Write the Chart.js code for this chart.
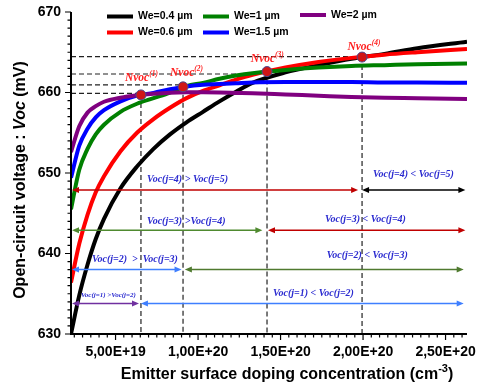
<!DOCTYPE html>
<html>
<head>
<meta charset="utf-8">
<script src="https://cdn.jsdelivr.net/npm/chart.js@4.4.0/dist/chart.umd.min.js"></script>
<style>
  html, body { margin: 0; padding: 0; background: #fff; }
  #wrap { width: 480px; height: 390px; }
</style>
</head>
<body>
<div id="wrap"><canvas id="vocChart" width="480" height="390"></canvas></div>
<script>
// emitter surface doping (cm-3)
const doping = [2.3e19, 2.8e19, 3.3e19, 3.8e19, 4.3e19, 5.3e19, 6.3e19, 7.3e19, 8.3e19, 9.3e19,
                1.03e20, 1.13e20, 1.23e20, 1.33e20, 1.53e20, 1.73e20, 1.93e20, 2.13e20, 2.33e20, 2.63e20];

// Voc (mV) for each emitter thickness
const vocWe04 = [630.0, 634.8, 638.6, 641.8, 644.3, 648.1, 650.8, 653.0, 654.8, 656.3,
                 657.6, 658.9, 660.1, 661.2, 662.5, 663.4, 664.2, 664.8, 665.5, 666.3];
const vocWe06 = [636.4, 641.2, 644.8, 647.6, 649.6, 652.7, 655.0, 656.7, 658.1, 659.3,
                 660.2, 660.9, 661.6, 662.2, 663.1, 663.8, 664.3, 664.7, 665.0, 665.4];
const vocWe1 = [645.5, 650.4, 653.0, 654.8, 656.0, 657.6, 658.6, 659.3, 660.0, 660.8,
                661.2, 661.7, 662.1, 662.4, 662.8, 663.1, 663.3, 663.4, 663.5, 663.6];
const vocWe15 = [649.4, 653.4, 655.5, 656.9, 657.8, 658.9, 659.62, 659.95, 660.4, 660.75,
                 660.95, 661.05, 661.15, 661.25, 661.3, 661.3, 661.3, 661.25, 661.25, 661.2];
const vocWe2 = [652.6, 655.8, 657.5, 658.3, 658.85, 659.35, 659.65, 659.85, 659.98, 660.02,
                660.02, 660.0, 659.95, 659.9, 659.75, 659.6, 659.45, 659.35, 659.3, 659.2];

const weLabels = ['We=0.4 µm', 'We=0.6 µm', 'We=1 µm', 'We=1.5 µm', 'We=2 µm'];
const weColors = ['#000000', '#ff0000', '#008000', '#0000ff', '#800080'];

// crossing points Nvoc(1..4)
const nvocX = [6.54e19, 9.09e19, 1.418e20, 1.994e20];
const nvocY = [659.7, 660.7, 662.6, 664.4];
const nvocGuideY = [659.9, 660.95, 662.3, 664.45];
const nvocTagX = [5.57e19, 8.3e19, 1.32e20, 1.905e20];
const nvocTagY = [661.8, 662.4, 664.1, 665.7];

// double arrows
const arrowY = [647.9, 647.9, 642.9, 642.9, 638.0, 638.0, 633.8, 633.8];
const arrowFrom = [2.36e19, 1.994e20, 2.36e19, 1.424e20, 2.36e19, 9.2e19, 2.36e19, 6.54e19];
const arrowTo = [1.97e20, 2.62e20, 1.39e20, 2.62e20, 9.0e19, 2.61e20, 6.42e19, 2.61e20];
const arrowColor = ['#c00000', '#000000', '#4f8a2f', '#c00000', '#3f7fff', '#4f7a2f', '#7030a0', '#3f7fff'];

// comparison notes
const noteText = ['Voc(j=4) > Voc(j=5)', 'Voc(j=4) < Voc(j=5)', 'Voc(j=3) >Voc(j=4)', 'Voc(j=3) < Voc(j=4)',
                  'Voc(j=2)  >  Voc(j=3)', 'Voc(j=2) < Voc(j=3)', 'Voc(j=1) >Voc(j=2)', 'Voc(j=1) < Voc(j=2)'];
const noteX = [6.91e19, 2.06e20, 6.91e19, 1.769e20, 3.57e19, 1.78e20, 2.9e19, 1.454e20];
const noteY = [649.2, 649.8, 644.0, 644.2, 639.3, 639.7, 634.8, 635.0];
const noteSize = [10, 10, 10, 10, 10, 10, 7, 10];

const xTicks = [5e19, 1e20, 1.5e20, 2e20, 2.5e20];
const yTicks = [630, 640, 650, 660, 670];

const SANS = '"Liberation Sans", Arial, sans-serif';
const SERIF = '"Liberation Serif", "Times New Roman", serif';

function sciLabel(v) {
  const e = Math.floor(Math.log10(v) + 1e-9);
  const m = v / Math.pow(10, e);
  return m.toFixed(2).replace('.', ',') + 'E+' + e;
}

function drawArrow(ctx, x1, x2, py, color) {
  ctx.strokeStyle = color;
  ctx.fillStyle = color;
  ctx.lineWidth = 1.5;
  ctx.beginPath();
  ctx.moveTo(x1 + 4, py);
  ctx.lineTo(x2 - 4, py);
  ctx.stroke();
  [[x1, 1], [x2, -1]].forEach(([hx, d]) => {
    ctx.beginPath();
    ctx.moveTo(hx, py);
    ctx.lineTo(hx + d * 7, py - 3);
    ctx.lineTo(hx + d * 7, py + 3);
    ctx.closePath();
    ctx.fill();
  });
}

function drawParts(ctx, parts, x, y) {
  // parts: [text, font, dy]
  let cx = x;
  parts.forEach(([t, f, dy]) => {
    ctx.font = f;
    ctx.fillText(t, cx, y + (dy || 0));
    cx += ctx.measureText(t).width;
  });
}

function partsWidth(ctx, parts) {
  let w = 0;
  parts.forEach(([t, f]) => { ctx.font = f; w += ctx.measureText(t).width; });
  return w;
}

const decor = {
  id: 'decor',
  beforeDatasetsDraw(chart) {
    const { ctx, chartArea } = chart;
    const x = chart.scales.x, y = chart.scales.y;
    ctx.save();
    ctx.setLineDash([5, 3]);
    ctx.strokeStyle = '#222';
    ctx.lineWidth = 1.2;
    nvocX.forEach((v, i) => {
      const px = x.getPixelForValue(v);
      const gy = y.getPixelForValue(nvocGuideY[i]);
      ctx.beginPath();
      ctx.moveTo(chartArea.left, gy);
      ctx.lineTo(px, gy);
      ctx.moveTo(px, y.getPixelForValue(nvocY[i]));
      ctx.lineTo(px, chartArea.bottom);
      ctx.stroke();
    });
    ctx.restore();
  },
  afterDatasetsDraw(chart) {
    const { ctx } = chart;
    const x = chart.scales.x, y = chart.scales.y;
    ctx.save();
    arrowY.forEach((v, i) => {
      drawArrow(ctx, x.getPixelForValue(arrowFrom[i]), x.getPixelForValue(arrowTo[i]), y.getPixelForValue(v), arrowColor[i]);
    });
    ctx.fillStyle = '#2b2bd0';
    ctx.textBaseline = 'middle';
    ctx.textAlign = 'left';
    noteText.forEach((t, i) => {
      ctx.font = 'italic bold ' + noteSize[i] + 'px ' + SERIF;
      ctx.fillText(t, x.getPixelForValue(noteX[i]), y.getPixelForValue(noteY[i]));
    });
    ctx.fillStyle = '#ff2020';
    nvocTagX.forEach((v, i) => {
      drawParts(ctx, [
        ['Nvoc', 'italic bold 11.5px ' + SERIF, 0],
        ['(' + (i + 1) + ')', 'italic bold 7.5px ' + SERIF, -4]
      ], x.getPixelForValue(v), y.getPixelForValue(nvocTagY[i]));
    });
    ctx.restore();
  },
  afterDraw(chart) {
    const { ctx, chartArea } = chart;
    const x = chart.scales.x, y = chart.scales.y;
    ctx.save();
    // axes
    ctx.strokeStyle = '#000';
    ctx.lineWidth = 2;
    ctx.beginPath();
    ctx.moveTo(chartArea.left, chartArea.top);
    ctx.lineTo(chartArea.left, chartArea.bottom);
    ctx.lineTo(chartArea.right, chartArea.bottom);
    ctx.stroke();
    ctx.lineWidth = 1.2;
    ctx.beginPath();
    for (let v = 630; v <= 670; v += 1) {
      const py = y.getPixelForValue(v);
      ctx.moveTo(chartArea.left, py);
      ctx.lineTo(chartArea.left - (v % 10 === 0 ? 6 : 3.5), py);
    }
    for (let v = 2.5e19; v <= 2.63e20; v += 5e18) {
      const px = x.getPixelForValue(v);
      const major = Math.abs(v / 5e19 - Math.round(v / 5e19)) < 1e-6;
      ctx.moveTo(px, chartArea.bottom);
      ctx.lineTo(px, chartArea.bottom + (major ? 6 : 3.5));
    }
    ctx.stroke();

    // axis titles
    ctx.fillStyle = '#000';
    ctx.textBaseline = 'middle';
    ctx.textAlign = 'left';
    const yParts = [
      ['Open-circuit voltage : ', 'bold 16px ' + SANS],
      ['Voc', 'italic bold 16px ' + SANS],
      [' (mV)', 'bold 16px ' + SANS]
    ];
    ctx.save();
    ctx.translate(21, 180);
    ctx.rotate(-Math.PI / 2);
    drawParts(ctx, yParts, -partsWidth(ctx, yParts) / 2, 0);
    ctx.restore();

    const xParts = [
      ['Emitter surface doping concentration ', 'bold 16px ' + SANS, 0],
      ['(cm', 'bold 16px ' + SANS, 0],
      ['-3', 'bold 11px ' + SANS, -6],
      [')', 'bold 16px ' + SANS, 0]
    ];
    drawParts(ctx, xParts, 287 - partsWidth(ctx, xParts) / 2, 375);

    // legend
    const legPos = [[107, 16.5], [107, 32.5], [203, 16.5], [203, 32.5], [300, 15]];
    ctx.lineWidth = 4;
    ctx.font = 'bold 10.5px ' + SANS;
    weLabels.forEach((t, i) => {
      const [lx, ly] = legPos[i];
      ctx.strokeStyle = weColors[i];
      ctx.beginPath();
      ctx.moveTo(lx, ly);
      ctx.lineTo(lx + 26, ly);
      ctx.stroke();
      ctx.fillText(t, lx + 31, ly);
    });
    ctx.restore();
  }
};

const vocSets = [vocWe04, vocWe06, vocWe1, vocWe15, vocWe2];
const datasets = vocSets.map((vals, k) => ({
  label: weLabels[k],
  data: vals.map((v, i) => ({ x: doping[i], y: v })),
  borderColor: weColors[k],
  borderWidth: 4,
  pointRadius: 0,
  fill: false,
  cubicInterpolationMode: 'monotone',
  order: 5 - k
}));
datasets.push({
  label: 'Nvoc',
  type: 'scatter',
  data: nvocX.map((v, i) => ({ x: v, y: nvocY[i] })),
  pointRadius: 5,
  pointBackgroundColor: '#d01515',
  pointBorderColor: '#4a4a90',
  pointBorderWidth: 1,
  showLine: false,
  order: 0
});

new Chart(document.getElementById('vocChart').getContext('2d'), {
  type: 'line',
  data: { datasets: datasets },
  options: {
    responsive: false,
    animation: false,
    events: [],
    layout: { padding: { top: 12, right: 13, left: 0, bottom: 0 } },
    plugins: { legend: { display: false }, tooltip: { enabled: false } },
    scales: {
      x: {
        type: 'linear',
        min: 2.3e19,
        max: 2.63e20,
        grid: { display: false, drawTicks: false },
        border: { display: false },
        afterBuildTicks: (s) => { s.ticks = xTicks.map(v => ({ value: v })); },
        afterFit: (s) => { s.height = 56; s.paddingLeft = 0; s.paddingRight = 0; },
        ticks: {
          padding: 10,
          maxRotation: 0,
          color: '#000',
          font: { family: SANS, size: 14, weight: 'bold' },
          callback: (v) => sciLabel(v)
        }
      },
      y: {
        min: 630,
        max: 670,
        grid: { display: false, drawTicks: false },
        border: { display: false },
        afterBuildTicks: (s) => { s.ticks = yTicks.map(v => ({ value: v })); },
        afterFit: (s) => { s.width = 71; s.paddingTop = 0; s.paddingBottom = 0; },
        ticks: {
          padding: 10,
          color: '#000',
          font: { family: SANS, size: 14, weight: 'bold' }
        }
      }
    }
  },
  plugins: [decor]
});
</script>
</body>
</html>
